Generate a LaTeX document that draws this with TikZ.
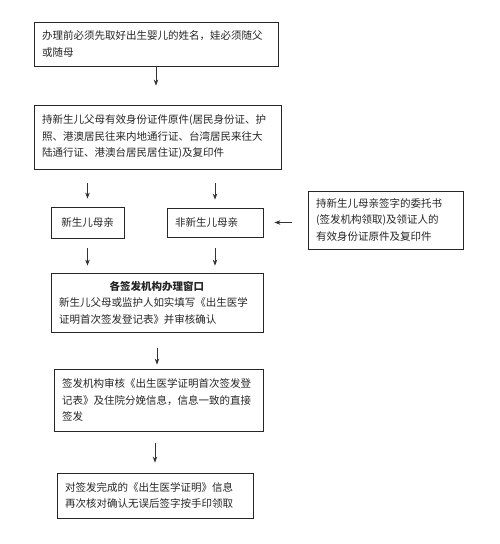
\documentclass[tikz,border=0pt]{standalone}
\usepackage{fontspec}
\setmainfont{Noto Sans CJK SC}
\usetikzlibrary{arrows.meta}

\begin{document}
\begin{tikzpicture}[x=1pt,y=-1pt,box/.style n args={2}{draw=black!85,line width=0.8pt,rectangle,text width=#1,minimum height=#2,inner xsep=8pt,inner ysep=2pt,align=left,text=black!85,font=\fontsize{10.5}{16.5}\selectfont},arr/.style={draw=black!80,line width=0.8pt,-{Stealth[length=6pt,width=4.5pt]}}]
\useasboundingbox[fill=white] (0,0) rectangle (500,544);
% steps from top to bottom
\node[box={228pt}{44pt}] (name) at (156,44) {办理前必须先取好出生婴儿的姓名，娃必须随父\\或随母};
\node[box={231pt}{64pt}] (docs) at (157.5,137) {持新生儿父母有效身份证件原件(居民身份证、护\\照、港澳居民往来内地通行证、台湾居民来往大\\陆通行证、港澳台居民居住证)及复印件};
\node[box={57pt}{31pt},align=center] (mother) at (87.5,222.5) {新生儿母亲};
\node[box={80pt}{29pt}] (other) at (215,222.5) {非新生儿母亲};
\node[box={139pt}{58pt}] (proxy) at (385.5,220) {持新生儿母亲签字的委托书\\(签发机构领取)及领证人的\\有效身份证原件及复印件};
\node[box={196pt}{59pt}] (window) at (157,302.5) {\makebox[196pt]{\bfseries 各签发机构办理窗口}\\新生儿父母或监护人如实填写《出生医学\\证明首次签发登记表》并审核确认};
\node[box={193pt}{62pt}] (check) at (158.5,400) {签发机构审核《出生医学证明首次签发登\\记表》及住院分娩信息，信息一致的直接\\签发};
\node[box={180pt}{45pt}] (sign) at (155,495.5) {对签发完成的《出生医学证明》信息\\再次核对确认无误后签字按手印领取};
% arrows
\draw[arr,shorten >=19pt] (name.south) -- (name.south |- docs.north);
\draw[arr,shorten <=14pt,shorten >=8pt] (mother.north |- docs.south) -- (mother.north);
\draw[arr,shorten <=14pt,shorten >=8pt] (other.north |- docs.south) -- (other.north);
\draw[arr,shorten <=16pt,shorten >=11pt] (proxy.west |- other.east) -- (other.east);
\draw[arr,shorten <=10pt,shorten >=7pt] (mother.south) -- (mother.south |- window.north);
\draw[arr,shorten <=11pt,shorten >=7pt] (other.south) -- (other.south |- window.north);
\draw[arr,shorten <=16pt,shorten >=4pt] (window.south) -- (window.south |- check.north);
\draw[arr,shorten <=12pt,shorten >=10pt] (sign.north |- check.south) -- (sign.north);
\end{tikzpicture}
\end{document}
